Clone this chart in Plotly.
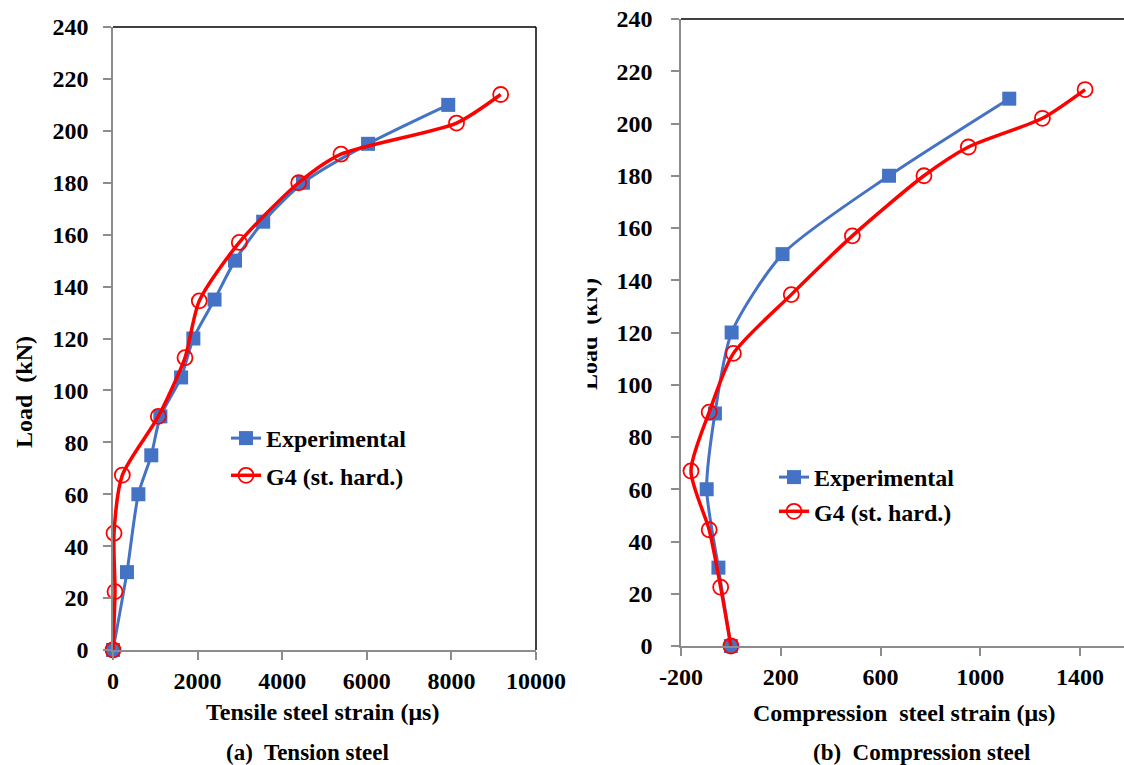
import plotly.graph_objects as go

W, H = 1124, 765

# ---------------- data ----------------
# (a) Tension steel
tens_exp_strain = [0, 330, 600, 905, 1120, 1610, 1900, 2400, 2884, 3550, 4490, 6030, 7925]
tens_exp_load = [0, 30, 60, 75, 90, 105, 120, 135, 150, 165, 180, 195, 210]
tens_g4_strain = [0, 47, 24, 221, 1072, 1702, 2040, 2986, 4390, 5390, 8121, 9165]
tens_g4_load = [0, 22.5, 45, 67.4, 90, 112.6, 134.5, 157, 180, 191, 203, 214]

# (b) Compression steel
comp_exp_strain = [0, -50, -97, -64, 3, 207, 634, 1116]
comp_exp_load = [0, 30, 60, 89, 120, 150, 180, 209.5]
comp_g4_strain = [0, -41, -87, -160, -87, 10, 242, 487, 774, 952, 1249, 1420]
comp_g4_load = [0, 22.5, 44.5, 67, 89.5, 112, 134.5, 157, 180, 191, 202, 213]

# tick labels
tens_x_ticks = [0, 2000, 4000, 6000, 8000, 10000]
tens_x_ticktext = ["0", "2000", "4000", "6000", "8000", "10000"]
comp_x_ticks = [-200, 200, 600, 1000, 1400]
comp_x_ticktext = ["-200", "200", "600", "1000", "1400"]

series_names = ["Experimental", "G4 (st. hard.)"]
panel_titles = ["(a)  Tension steel", "(b)  Compression steel"]
x_titles = ["Tensile steel strain (μs)", "Compression  steel strain (μs)"]
y_title = "Load  (kN)"

BLUE = "#4472C4"
RED = "#FF0000"
GREY = "#8C8C8C"
FONT = "Liberation Serif, Times New Roman, serif"

fig = go.Figure()


def add_pair(xe, ye, xg, yg, xa, ya, legend):
    fig.add_trace(go.Scatter(
        x=xe, y=ye, name=series_names[0], xaxis=xa, yaxis=ya, legend=legend,
        legendgroup=legend + "e", mode="lines+markers", cliponaxis=False,
        line=dict(color=BLUE, width=3, shape="spline", smoothing=0.7),
        marker=dict(symbol="square", size=14, color=BLUE)))
    fig.add_trace(go.Scatter(
        x=xg, y=yg, name=series_names[1], xaxis=xa, yaxis=ya, legend=legend,
        legendgroup=legend + "g", mode="lines+markers", cliponaxis=False,
        line=dict(color=RED, width=3.5, shape="spline", smoothing=0.7),
        marker=dict(symbol="circle-open", size=15, color=RED, line=dict(width=1.8, color=RED))))


add_pair(tens_exp_strain, tens_exp_load, tens_g4_strain, tens_g4_load, "x", "y", "legend")
add_pair(comp_exp_strain, comp_exp_load, comp_g4_strain, comp_g4_load, "x2", "y2", "legend2")

tickfont = dict(family=FONT, size=24, color="black", weight="bold")
axis_common = dict(showgrid=False, zeroline=False, showline=True, linecolor=GREY, linewidth=1.5,
                   ticks="outside", ticklen=8, tickwidth=1.5, tickcolor=GREY, tickfont=tickfont,
                   automargin=False)

legend_common = dict(bgcolor="rgba(0,0,0,0)", xanchor="left", yanchor="top",
                     traceorder="grouped",
                     font=dict(family=FONT, size=24, color="black", weight="bold"))

fig.update_layout(
    template="none",
    width=W, height=H, margin=dict(l=0, r=0, t=0, b=0, pad=0, autoexpand=False),
    paper_bgcolor="white", plot_bgcolor="white",
    xaxis=dict(domain=[113 / W, 536 / W], range=[0, 10000],
               tickvals=tens_x_ticks, ticktext=tens_x_ticktext,
               anchor="y", **axis_common),
    yaxis=dict(domain=[1 - 650 / H, 1 - 27 / H], range=[0, 240], tick0=0, dtick=20,
               anchor="x", ticklabelstandoff=10, **axis_common),
    xaxis2=dict(domain=[681 / W, 1], range=[-200, 1576],
                tickvals=comp_x_ticks, ticktext=comp_x_ticktext,
                anchor="y2", **axis_common),
    yaxis2=dict(domain=[1 - 646 / H, 1 - 19 / H], range=[0, 240], tick0=0, dtick=20,
                anchor="x2", ticklabelstandoff=14, **axis_common),
    legend=dict(x=226 / W, y=1 - 416 / H, tracegroupgap=3, **legend_common),
    legend2=dict(x=774 / W, y=1 - 455 / H, tracegroupgap=0, **legend_common),
    showlegend=True,
)

# top / right borders (black)
border = dict(color="black", width=1.5)
fig.add_shape(type="line", xref="x domain", yref="y domain", x0=0, x1=1, y0=1, y1=1, line=border)
fig.add_shape(type="line", xref="x domain", yref="y domain", x0=1, x1=1, y0=0, y1=1, line=border)
fig.add_shape(type="line", xref="x2 domain", yref="y2 domain", x0=0, x1=1, y0=1, y1=1, line=border)

tfont = dict(family=FONT, size=24, color="black", weight="bold")
sfont = dict(family=FONT, size=23, color="black", weight="bold")


def ann(text, px, py, font, angle=0, **kw):
    fig.add_annotation(text=text, x=px / W, y=1 - py / H, xref="paper", yref="paper",
                       showarrow=False, textangle=angle, font=font,
                       xanchor=kw.pop("xanchor", "center"), yanchor=kw.pop("yanchor", "middle"), **kw)


ann(y_title, 24, 392, tfont, angle=-90)
ann(x_titles[0], 322, 712, tfont)
ann(panel_titles[0], 307, 752, sfont)
ann(x_titles[1], 904, 713, tfont)
ann(panel_titles[1], 921, 752, sfont)
# right panel y-title: only partially visible in the original (left part cut off)
ann(y_title, 589, 334, tfont, angle=-90)
ann(" ", 587.5, 334, dict(size=4), xanchor="right", width=40, height=150,
    bgcolor="white", borderpad=0)

fig.write_html("out.html")
